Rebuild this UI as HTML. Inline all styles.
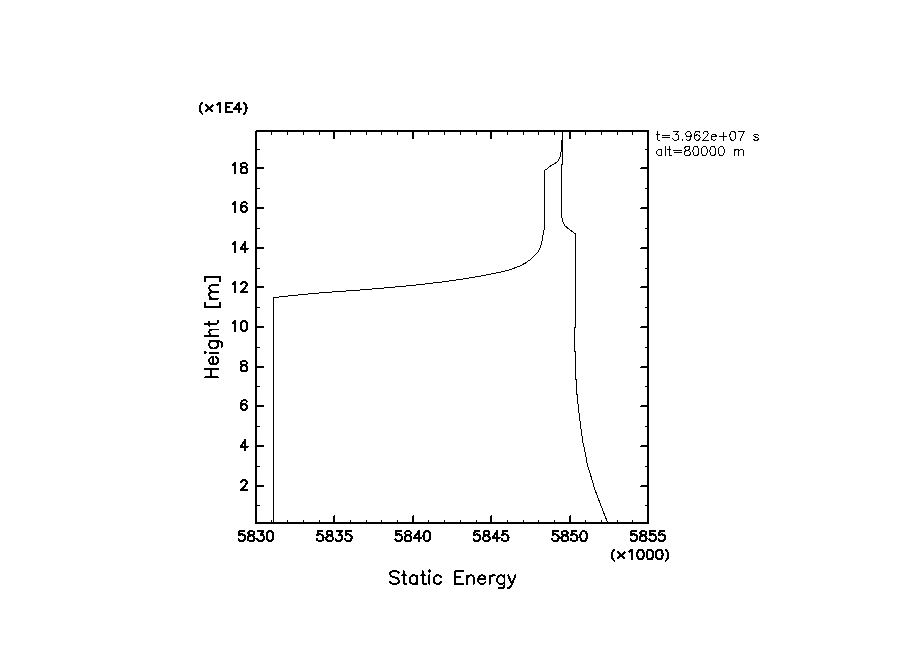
<!DOCTYPE html>
<html><head><meta charset="utf-8"><title>Static Energy vs Height</title>
<style>
html,body{margin:0;padding:0;background:#fff;}
body{width:904px;height:654px;overflow:hidden;font-family:"Liberation Sans",sans-serif;}
svg{display:block;}
.t text{fill:#000;fill-opacity:0;font-family:"Liberation Sans",sans-serif;}
</style></head><body>
<svg width="904" height="654" viewBox="0 0 904 654" shape-rendering="crispEdges">
<rect x="0" y="0" width="904" height="654" fill="#fff"/>
<g fill="#000">
<rect x="256" y="130" width="393" height="1"/>
<rect x="255" y="131" width="394" height="1"/>
<rect x="255" y="522" width="394" height="2"/>
<rect x="255" y="131" width="2" height="393"/>
<rect x="647" y="130" width="2" height="394"/>
<rect x="271" y="132" width="1" height="3"/>
<rect x="271" y="520" width="1" height="2"/>
<rect x="287" y="132" width="1" height="3"/>
<rect x="287" y="520" width="1" height="2"/>
<rect x="303" y="132" width="1" height="3"/>
<rect x="303" y="520" width="1" height="2"/>
<rect x="319" y="132" width="1" height="3"/>
<rect x="319" y="520" width="1" height="2"/>
<rect x="333" y="132" width="2" height="7"/>
<rect x="333" y="516" width="1" height="6"/>
<rect x="334" y="515" width="1" height="7"/>
<rect x="350" y="132" width="1" height="3"/>
<rect x="350" y="520" width="1" height="2"/>
<rect x="366" y="132" width="1" height="3"/>
<rect x="366" y="520" width="1" height="2"/>
<rect x="381" y="132" width="1" height="3"/>
<rect x="381" y="520" width="1" height="2"/>
<rect x="397" y="132" width="1" height="3"/>
<rect x="397" y="520" width="1" height="2"/>
<rect x="412" y="132" width="2" height="7"/>
<rect x="412" y="516" width="1" height="6"/>
<rect x="413" y="515" width="1" height="7"/>
<rect x="428" y="132" width="1" height="3"/>
<rect x="428" y="520" width="1" height="2"/>
<rect x="444" y="132" width="1" height="3"/>
<rect x="444" y="520" width="1" height="2"/>
<rect x="460" y="132" width="1" height="3"/>
<rect x="460" y="520" width="1" height="2"/>
<rect x="476" y="132" width="1" height="3"/>
<rect x="476" y="520" width="1" height="2"/>
<rect x="490" y="132" width="2" height="7"/>
<rect x="490" y="516" width="1" height="6"/>
<rect x="491" y="515" width="1" height="7"/>
<rect x="507" y="132" width="1" height="3"/>
<rect x="507" y="520" width="1" height="2"/>
<rect x="523" y="132" width="1" height="3"/>
<rect x="523" y="520" width="1" height="2"/>
<rect x="538" y="132" width="1" height="3"/>
<rect x="538" y="520" width="1" height="2"/>
<rect x="554" y="132" width="1" height="3"/>
<rect x="554" y="520" width="1" height="2"/>
<rect x="569" y="132" width="2" height="7"/>
<rect x="569" y="516" width="1" height="6"/>
<rect x="570" y="515" width="1" height="7"/>
<rect x="585" y="132" width="1" height="3"/>
<rect x="585" y="520" width="1" height="2"/>
<rect x="601" y="132" width="1" height="3"/>
<rect x="601" y="520" width="1" height="2"/>
<rect x="617" y="132" width="1" height="3"/>
<rect x="617" y="520" width="1" height="2"/>
<rect x="632" y="132" width="1" height="3"/>
<rect x="632" y="520" width="1" height="2"/>
<rect x="257" y="167" width="7" height="2"/>
<rect x="641" y="167" width="6" height="1"/>
<rect x="640" y="168" width="7" height="1"/>
<rect x="257" y="207" width="7" height="2"/>
<rect x="641" y="207" width="6" height="1"/>
<rect x="640" y="208" width="7" height="1"/>
<rect x="257" y="247" width="7" height="2"/>
<rect x="641" y="247" width="6" height="1"/>
<rect x="640" y="248" width="7" height="1"/>
<rect x="257" y="286" width="7" height="2"/>
<rect x="641" y="286" width="6" height="1"/>
<rect x="640" y="287" width="7" height="1"/>
<rect x="257" y="326" width="7" height="2"/>
<rect x="641" y="326" width="6" height="1"/>
<rect x="640" y="327" width="7" height="1"/>
<rect x="257" y="366" width="7" height="2"/>
<rect x="641" y="366" width="6" height="1"/>
<rect x="640" y="367" width="7" height="1"/>
<rect x="257" y="405" width="7" height="2"/>
<rect x="641" y="405" width="6" height="1"/>
<rect x="640" y="406" width="7" height="1"/>
<rect x="257" y="445" width="7" height="2"/>
<rect x="641" y="445" width="6" height="1"/>
<rect x="640" y="446" width="7" height="1"/>
<rect x="257" y="485" width="7" height="2"/>
<rect x="641" y="485" width="6" height="1"/>
<rect x="640" y="486" width="7" height="1"/>
<rect x="257" y="149" width="3" height="1"/>
<rect x="645" y="149" width="2" height="1"/>
<rect x="257" y="188" width="3" height="1"/>
<rect x="645" y="188" width="2" height="1"/>
<rect x="257" y="228" width="3" height="1"/>
<rect x="645" y="228" width="2" height="1"/>
<rect x="257" y="268" width="3" height="1"/>
<rect x="645" y="268" width="2" height="1"/>
<rect x="257" y="307" width="3" height="1"/>
<rect x="645" y="307" width="2" height="1"/>
<rect x="257" y="347" width="3" height="1"/>
<rect x="645" y="347" width="2" height="1"/>
<rect x="257" y="386" width="3" height="1"/>
<rect x="645" y="386" width="2" height="1"/>
<rect x="257" y="426" width="3" height="1"/>
<rect x="645" y="426" width="2" height="1"/>
<rect x="257" y="466" width="3" height="1"/>
<rect x="645" y="466" width="2" height="1"/>
<rect x="257" y="505" width="3" height="1"/>
<rect x="645" y="505" width="2" height="1"/>
</g>
<g fill="none" stroke="#000" stroke-width="1" stroke-linejoin="round" stroke-linecap="butt">
<path d="M273.5 522.0 L273.5 297.5 L276.0 297.5 L283.0 296.5 L293.0 295.5 L302.5 294.5 L313.0 293.5 L325.5 292.5 L339.5 291.5 L353.5 290.5 L366.5 289.5 L378.5 288.5 L389.5 287.5 L400.5 286.5 L411.0 285.5 L420.5 284.5 L429.0 283.5 L437.5 282.5 L446.0 281.5 L453.0 280.5 L459.5 279.5 L466.0 278.5 L472.0 277.5 L478.0 276.5 L487.4 274.8 L494.8 273.2 L502.1 271.8 L508.5 270.2 L514.0 268.2 L519.5 266.1 L525.0 263.3 L529.6 260.1 L534.2 256.0 L537.9 251.9 L540.2 247.7 L541.5 243.5 L542.5 238.5 L543.5 232.5 L544.5 227.5 L544.5 170.5 L547.0 169.0 L550.5 166.0 L555.0 163.5 L558.5 160.5 L560.0 157.0 L560.7 153.5 L561.5 150.0 L561.5 141.0 L562.5 139.0 L562.5 131.0"/>
<path d="M562.5 131.0 L562.5 164.0 L561.5 165.0 L561.5 216.0 L562.5 220.0 L563.6 223.5 L565.0 225.8 L567.2 227.7 L571.4 230.9 L575.5 234.0 L575.5 327.0 L574.5 328.0 L574.5 351.0 L575.5 352.0 L575.5 379.0 L576.5 380.0 L576.5 394.0 L577.5 395.0 L577.5 400.0 L578.6 409.5 L580.5 424.8 L582.5 440.1 L585.3 453.5 L587.6 465.9 L591.0 476.4 L594.3 487.8 L599.6 502.1 L604.4 514.6 L607.5 522.0"/>
</g>
<g fill="none" stroke="#000" stroke-width="2.05" stroke-linejoin="round" stroke-linecap="round">
<path d="M244.15 531.13 L239.45 531.13 L238.98 535.36 L239.45 534.89 L240.86 534.42 L242.27 534.42 L243.68 534.89 L244.62 535.83 L245.09 537.24 L245.09 538.18 L244.62 539.59 L243.68 540.53 L242.27 541.00 L240.86 541.00 L239.45 540.53 L238.98 540.06 L238.51 539.12 M250.26 531.13 L248.85 531.60 L248.38 532.54 L248.38 533.48 L248.85 534.42 L249.79 534.89 L251.67 535.36 L253.08 535.83 L254.02 536.77 L254.49 537.71 L254.49 539.12 L254.02 540.06 L253.55 540.53 L252.14 541.00 L250.26 541.00 L248.85 540.53 L248.38 540.06 L247.91 539.12 L247.91 537.71 L248.38 536.77 L249.32 535.83 L250.73 535.36 L252.61 534.89 L253.55 534.42 L254.02 533.48 L254.02 532.54 L253.55 531.60 L252.14 531.13 L250.26 531.13 M258.25 531.13 L263.42 531.13 L260.60 534.89 L262.01 534.89 L262.95 535.36 L263.42 535.83 L263.89 537.24 L263.89 538.18 L263.42 539.59 L262.48 540.53 L261.07 541.00 L259.66 541.00 L258.25 540.53 L257.78 540.06 L257.31 539.12 M269.53 531.13 L268.12 531.60 L267.18 533.01 L266.71 535.36 L266.71 536.77 L267.18 539.12 L268.12 540.53 L269.53 541.00 L270.47 541.00 L271.88 540.53 L272.82 539.12 L273.29 536.77 L273.29 535.36 L272.82 533.01 L271.88 531.60 L270.47 531.13 L269.53 531.13"/>
<path d="M322.55 531.13 L317.85 531.13 L317.38 535.36 L317.85 534.89 L319.26 534.42 L320.67 534.42 L322.08 534.89 L323.02 535.83 L323.49 537.24 L323.49 538.18 L323.02 539.59 L322.08 540.53 L320.67 541.00 L319.26 541.00 L317.85 540.53 L317.38 540.06 L316.91 539.12 M328.66 531.13 L327.25 531.60 L326.78 532.54 L326.78 533.48 L327.25 534.42 L328.19 534.89 L330.07 535.36 L331.48 535.83 L332.42 536.77 L332.89 537.71 L332.89 539.12 L332.42 540.06 L331.95 540.53 L330.54 541.00 L328.66 541.00 L327.25 540.53 L326.78 540.06 L326.31 539.12 L326.31 537.71 L326.78 536.77 L327.72 535.83 L329.13 535.36 L331.01 534.89 L331.95 534.42 L332.42 533.48 L332.42 532.54 L331.95 531.60 L330.54 531.13 L328.66 531.13 M336.65 531.13 L341.82 531.13 L339.00 534.89 L340.41 534.89 L341.35 535.36 L341.82 535.83 L342.29 537.24 L342.29 538.18 L341.82 539.59 L340.88 540.53 L339.47 541.00 L338.06 541.00 L336.65 540.53 L336.18 540.06 L335.71 539.12 M350.75 531.13 L346.05 531.13 L345.58 535.36 L346.05 534.89 L347.46 534.42 L348.87 534.42 L350.28 534.89 L351.22 535.83 L351.69 537.24 L351.69 538.18 L351.22 539.59 L350.28 540.53 L348.87 541.00 L347.46 541.00 L346.05 540.53 L345.58 540.06 L345.11 539.12"/>
<path d="M400.95 531.13 L396.25 531.13 L395.78 535.36 L396.25 534.89 L397.66 534.42 L399.07 534.42 L400.48 534.89 L401.42 535.83 L401.89 537.24 L401.89 538.18 L401.42 539.59 L400.48 540.53 L399.07 541.00 L397.66 541.00 L396.25 540.53 L395.78 540.06 L395.31 539.12 M407.06 531.13 L405.65 531.60 L405.18 532.54 L405.18 533.48 L405.65 534.42 L406.59 534.89 L408.47 535.36 L409.88 535.83 L410.82 536.77 L411.29 537.71 L411.29 539.12 L410.82 540.06 L410.35 540.53 L408.94 541.00 L407.06 541.00 L405.65 540.53 L405.18 540.06 L404.71 539.12 L404.71 537.71 L405.18 536.77 L406.12 535.83 L407.53 535.36 L409.41 534.89 L410.35 534.42 L410.82 533.48 L410.82 532.54 L410.35 531.60 L408.94 531.13 L407.06 531.13 M418.81 531.13 L414.11 537.71 L421.16 537.71 M418.81 531.13 L418.81 541.00 M426.33 531.13 L424.92 531.60 L423.98 533.01 L423.51 535.36 L423.51 536.77 L423.98 539.12 L424.92 540.53 L426.33 541.00 L427.27 541.00 L428.68 540.53 L429.62 539.12 L430.09 536.77 L430.09 535.36 L429.62 533.01 L428.68 531.60 L427.27 531.13 L426.33 531.13"/>
<path d="M479.35 531.13 L474.65 531.13 L474.18 535.36 L474.65 534.89 L476.06 534.42 L477.47 534.42 L478.88 534.89 L479.82 535.83 L480.29 537.24 L480.29 538.18 L479.82 539.59 L478.88 540.53 L477.47 541.00 L476.06 541.00 L474.65 540.53 L474.18 540.06 L473.71 539.12 M485.46 531.13 L484.05 531.60 L483.58 532.54 L483.58 533.48 L484.05 534.42 L484.99 534.89 L486.87 535.36 L488.28 535.83 L489.22 536.77 L489.69 537.71 L489.69 539.12 L489.22 540.06 L488.75 540.53 L487.34 541.00 L485.46 541.00 L484.05 540.53 L483.58 540.06 L483.11 539.12 L483.11 537.71 L483.58 536.77 L484.52 535.83 L485.93 535.36 L487.81 534.89 L488.75 534.42 L489.22 533.48 L489.22 532.54 L488.75 531.60 L487.34 531.13 L485.46 531.13 M497.21 531.13 L492.51 537.71 L499.56 537.71 M497.21 531.13 L497.21 541.00 M507.55 531.13 L502.85 531.13 L502.38 535.36 L502.85 534.89 L504.26 534.42 L505.67 534.42 L507.08 534.89 L508.02 535.83 L508.49 537.24 L508.49 538.18 L508.02 539.59 L507.08 540.53 L505.67 541.00 L504.26 541.00 L502.85 540.53 L502.38 540.06 L501.91 539.12"/>
<path d="M557.75 531.13 L553.05 531.13 L552.58 535.36 L553.05 534.89 L554.46 534.42 L555.87 534.42 L557.28 534.89 L558.22 535.83 L558.69 537.24 L558.69 538.18 L558.22 539.59 L557.28 540.53 L555.87 541.00 L554.46 541.00 L553.05 540.53 L552.58 540.06 L552.11 539.12 M563.86 531.13 L562.45 531.60 L561.98 532.54 L561.98 533.48 L562.45 534.42 L563.39 534.89 L565.27 535.36 L566.68 535.83 L567.62 536.77 L568.09 537.71 L568.09 539.12 L567.62 540.06 L567.15 540.53 L565.74 541.00 L563.86 541.00 L562.45 540.53 L561.98 540.06 L561.51 539.12 L561.51 537.71 L561.98 536.77 L562.92 535.83 L564.33 535.36 L566.21 534.89 L567.15 534.42 L567.62 533.48 L567.62 532.54 L567.15 531.60 L565.74 531.13 L563.86 531.13 M576.55 531.13 L571.85 531.13 L571.38 535.36 L571.85 534.89 L573.26 534.42 L574.67 534.42 L576.08 534.89 L577.02 535.83 L577.49 537.24 L577.49 538.18 L577.02 539.59 L576.08 540.53 L574.67 541.00 L573.26 541.00 L571.85 540.53 L571.38 540.06 L570.91 539.12 M583.13 531.13 L581.72 531.60 L580.78 533.01 L580.31 535.36 L580.31 536.77 L580.78 539.12 L581.72 540.53 L583.13 541.00 L584.07 541.00 L585.48 540.53 L586.42 539.12 L586.89 536.77 L586.89 535.36 L586.42 533.01 L585.48 531.60 L584.07 531.13 L583.13 531.13"/>
<path d="M636.15 531.13 L631.45 531.13 L630.98 535.36 L631.45 534.89 L632.86 534.42 L634.27 534.42 L635.68 534.89 L636.62 535.83 L637.09 537.24 L637.09 538.18 L636.62 539.59 L635.68 540.53 L634.27 541.00 L632.86 541.00 L631.45 540.53 L630.98 540.06 L630.51 539.12 M642.26 531.13 L640.85 531.60 L640.38 532.54 L640.38 533.48 L640.85 534.42 L641.79 534.89 L643.67 535.36 L645.08 535.83 L646.02 536.77 L646.49 537.71 L646.49 539.12 L646.02 540.06 L645.55 540.53 L644.14 541.00 L642.26 541.00 L640.85 540.53 L640.38 540.06 L639.91 539.12 L639.91 537.71 L640.38 536.77 L641.32 535.83 L642.73 535.36 L644.61 534.89 L645.55 534.42 L646.02 533.48 L646.02 532.54 L645.55 531.60 L644.14 531.13 L642.26 531.13 M654.95 531.13 L650.25 531.13 L649.78 535.36 L650.25 534.89 L651.66 534.42 L653.07 534.42 L654.48 534.89 L655.42 535.83 L655.89 537.24 L655.89 538.18 L655.42 539.59 L654.48 540.53 L653.07 541.00 L651.66 541.00 L650.25 540.53 L649.78 540.06 L649.31 539.12 M664.35 531.13 L659.65 531.13 L659.18 535.36 L659.65 534.89 L661.06 534.42 L662.47 534.42 L663.88 534.89 L664.82 535.83 L665.29 537.24 L665.29 538.18 L664.82 539.59 L663.88 540.53 L662.47 541.00 L661.06 541.00 L659.65 540.53 L659.18 540.06 L658.71 539.12"/>
<path d="M241.08 482.48 L241.08 482.01 L241.55 481.07 L242.02 480.60 L242.96 480.13 L244.84 480.13 L245.78 480.60 L246.25 481.07 L246.72 482.01 L246.72 482.95 L246.25 483.89 L245.31 485.30 L240.61 490.00 L247.19 490.00"/>
<path d="M245.31 440.13 L240.61 446.71 L247.66 446.71 M245.31 440.13 L245.31 450.00"/>
<path d="M246.72 401.54 L246.25 400.60 L244.84 400.13 L243.90 400.13 L242.49 400.60 L241.55 402.01 L241.08 404.36 L241.08 406.71 L241.55 408.59 L242.49 409.53 L243.90 410.00 L244.37 410.00 L245.78 409.53 L246.72 408.59 L247.19 407.18 L247.19 406.71 L246.72 405.30 L245.78 404.36 L244.37 403.89 L243.90 403.89 L242.49 404.36 L241.55 405.30 L241.08 406.71"/>
<path d="M242.96 361.13 L241.55 361.60 L241.08 362.54 L241.08 363.48 L241.55 364.42 L242.49 364.89 L244.37 365.36 L245.78 365.83 L246.72 366.77 L247.19 367.71 L247.19 369.12 L246.72 370.06 L246.25 370.53 L244.84 371.00 L242.96 371.00 L241.55 370.53 L241.08 370.06 L240.61 369.12 L240.61 367.71 L241.08 366.77 L242.02 365.83 L243.43 365.36 L245.31 364.89 L246.25 364.42 L246.72 363.48 L246.72 362.54 L246.25 361.60 L244.84 361.13 L242.96 361.13"/>
<path d="M232.62 323.01 L233.56 322.54 L234.97 321.13 L234.97 331.00 M243.43 321.13 L242.02 321.60 L241.08 323.01 L240.61 325.36 L240.61 326.77 L241.08 329.12 L242.02 330.53 L243.43 331.00 L244.37 331.00 L245.78 330.53 L246.72 329.12 L247.19 326.77 L247.19 325.36 L246.72 323.01 L245.78 321.60 L244.37 321.13 L243.43 321.13"/>
<path d="M232.62 284.01 L233.56 283.54 L234.97 282.13 L234.97 292.00 M241.08 284.48 L241.08 284.01 L241.55 283.07 L242.02 282.60 L242.96 282.13 L244.84 282.13 L245.78 282.60 L246.25 283.07 L246.72 284.01 L246.72 284.95 L246.25 285.89 L245.31 287.30 L240.61 292.00 L247.19 292.00"/>
<path d="M232.62 244.01 L233.56 243.54 L234.97 242.13 L234.97 252.00 M245.31 242.13 L240.61 248.71 L247.66 248.71 M245.31 242.13 L245.31 252.00"/>
<path d="M232.62 204.01 L233.56 203.54 L234.97 202.13 L234.97 212.00 M246.72 203.54 L246.25 202.60 L244.84 202.13 L243.90 202.13 L242.49 202.60 L241.55 204.01 L241.08 206.36 L241.08 208.71 L241.55 210.59 L242.49 211.53 L243.90 212.00 L244.37 212.00 L245.78 211.53 L246.72 210.59 L247.19 209.18 L247.19 208.71 L246.72 207.30 L245.78 206.36 L244.37 205.89 L243.90 205.89 L242.49 206.36 L241.55 207.30 L241.08 208.71"/>
<path d="M232.62 165.01 L233.56 164.54 L234.97 163.13 L234.97 173.00 M242.96 163.13 L241.55 163.60 L241.08 164.54 L241.08 165.48 L241.55 166.42 L242.49 166.89 L244.37 167.36 L245.78 167.83 L246.72 168.77 L247.19 169.71 L247.19 171.12 L246.72 172.06 L246.25 172.53 L244.84 173.00 L242.96 173.00 L241.55 172.53 L241.08 172.06 L240.61 171.12 L240.61 169.71 L241.08 168.77 L242.02 167.83 L243.43 167.36 L245.31 166.89 L246.25 166.42 L246.72 165.48 L246.72 164.54 L246.25 163.60 L244.84 163.13 L242.96 163.13"/>
<path d="M202.20 102.85 L201.50 103.52 L200.79 104.54 L200.09 105.89 L199.73 107.58 L199.73 108.92 L200.09 110.61 L200.79 111.96 L201.50 112.97 L202.20 113.65 M205.96 105.33 L212.54 111.17 M212.54 105.33 L205.96 111.17 M217.24 104.65 L218.18 104.20 L219.59 102.85 L219.59 112.30 M225.70 102.85 L225.70 112.30 M225.70 102.85 L231.81 102.85 M225.70 107.35 L229.46 107.35 M225.70 112.30 L231.81 112.30 M238.86 102.85 L234.16 109.15 L241.21 109.15 M238.86 102.85 L238.86 112.30 M244.03 102.85 L244.74 103.52 L245.44 104.54 L246.14 105.89 L246.50 107.58 L246.50 108.92 L246.14 110.61 L245.44 111.96 L244.74 112.97 L244.03 113.65"/>
<path d="M614.20 549.85 L613.50 550.52 L612.79 551.54 L612.09 552.89 L611.73 554.57 L611.73 555.92 L612.09 557.61 L612.79 558.96 L613.50 559.97 L614.20 560.65 M617.96 552.32 L624.54 558.17 M624.54 552.32 L617.96 558.17 M629.24 551.65 L630.18 551.20 L631.59 549.85 L631.59 559.30 M640.05 549.85 L638.64 550.30 L637.70 551.65 L637.23 553.90 L637.23 555.25 L637.70 557.50 L638.64 558.85 L640.05 559.30 L640.99 559.30 L642.40 558.85 L643.34 557.50 L643.81 555.25 L643.81 553.90 L643.34 551.65 L642.40 550.30 L640.99 549.85 L640.05 549.85 M649.45 549.85 L648.04 550.30 L647.10 551.65 L646.63 553.90 L646.63 555.25 L647.10 557.50 L648.04 558.85 L649.45 559.30 L650.39 559.30 L651.80 558.85 L652.74 557.50 L653.21 555.25 L653.21 553.90 L652.74 551.65 L651.80 550.30 L650.39 549.85 L649.45 549.85 M658.85 549.85 L657.44 550.30 L656.50 551.65 L656.03 553.90 L656.03 555.25 L656.50 557.50 L657.44 558.85 L658.85 559.30 L659.79 559.30 L661.20 558.85 L662.14 557.50 L662.61 555.25 L662.61 553.90 L662.14 551.65 L661.20 550.30 L659.79 549.85 L658.85 549.85 M665.90 549.85 L666.61 550.52 L667.31 551.54 L668.01 552.89 L668.37 554.57 L668.37 555.92 L668.01 557.61 L667.31 558.96 L666.61 559.97 L665.90 560.65"/>
</g>
<g fill="none" stroke="#000" stroke-width="1.9" stroke-linejoin="round" stroke-linecap="round">
<path d="M398.69 572.93 L397.46 571.70 L395.61 571.09 L393.15 571.09 L391.31 571.70 L390.08 572.93 L390.08 574.16 L390.69 575.39 L391.31 576.00 L392.54 576.62 L396.23 577.85 L397.46 578.47 L398.07 579.08 L398.69 580.31 L398.69 582.15 L397.46 583.38 L395.61 584.00 L393.15 584.00 L391.31 583.38 L390.08 582.15 M403.61 571.09 L403.61 581.54 L404.22 583.38 L405.45 584.00 L406.68 584.00 M401.76 575.39 L406.07 575.39 M417.14 575.39 L417.14 584.00 M417.14 577.24 L415.91 576.00 L414.68 575.39 L412.83 575.39 L411.60 576.00 L410.37 577.24 L409.76 579.08 L409.76 580.31 L410.37 582.15 L411.60 583.38 L412.83 584.00 L414.68 584.00 L415.91 583.38 L417.14 582.15 M422.67 571.09 L422.67 581.54 L423.29 583.38 L424.52 584.00 L425.75 584.00 M420.83 575.39 L425.13 575.39 M428.82 571.09 L429.44 571.70 L430.05 571.09 L429.44 570.47 L428.82 571.09 M429.44 575.39 L429.44 584.00 M441.12 577.24 L439.89 576.00 L438.66 575.39 L436.82 575.39 L435.59 576.00 L434.36 577.24 L433.74 579.08 L433.74 580.31 L434.36 582.15 L435.59 583.38 L436.82 584.00 L438.66 584.00 L439.89 583.38 L441.12 582.15 M455.27 571.09 L455.27 584.00 M455.27 571.09 L463.26 571.09 M455.27 577.24 L460.19 577.24 M455.27 584.00 L463.26 584.00 M466.95 575.39 L466.95 584.00 M466.95 577.85 L468.80 576.00 L470.03 575.39 L471.87 575.39 L473.10 576.00 L473.72 577.85 L473.72 584.00 M478.02 579.08 L485.40 579.08 L485.40 577.85 L484.79 576.62 L484.17 576.00 L482.94 575.39 L481.10 575.39 L479.87 576.00 L478.64 577.24 L478.02 579.08 L478.02 580.31 L478.64 582.15 L479.87 583.38 L481.10 584.00 L482.94 584.00 L484.17 583.38 L485.40 582.15 M489.71 575.39 L489.71 584.00 M489.71 579.08 L490.32 577.24 L491.55 576.00 L492.78 575.39 L494.63 575.39 M504.47 575.39 L504.47 585.23 L503.85 587.08 L503.24 587.69 L502.01 588.30 L500.16 588.30 L498.93 587.69 M504.47 577.24 L503.24 576.00 L502.01 575.39 L500.16 575.39 L498.93 576.00 L497.70 577.24 L497.09 579.08 L497.09 580.31 L497.70 582.15 L498.93 583.38 L500.16 584.00 L502.01 584.00 L503.24 583.38 L504.47 582.15 M508.16 575.39 L511.85 584.00 M515.54 575.39 L511.85 584.00 L510.62 586.46 L509.39 587.69 L508.16 588.30 L507.54 588.30"/>
<path d="M205.09 377.43 L218.00 377.43 M205.09 368.82 L218.00 368.82 M211.24 377.43 L211.24 368.82 M213.08 364.51 L213.08 357.13 L211.85 357.13 L210.62 357.75 L210.00 358.37 L209.39 359.59 L209.39 361.44 L210.00 362.67 L211.24 363.90 L213.08 364.51 L214.31 364.51 L216.16 363.90 L217.38 362.67 L218.00 361.44 L218.00 359.59 L217.38 358.37 L216.16 357.13 M205.09 353.44 L205.70 352.83 L205.09 352.21 L204.47 352.83 L205.09 353.44 M209.39 352.83 L218.00 352.83 M209.39 341.14 L219.23 341.14 L221.07 341.76 L221.69 342.38 L222.31 343.61 L222.31 345.45 L221.69 346.68 M211.24 341.14 L210.00 342.38 L209.39 343.61 L209.39 345.45 L210.00 346.68 L211.24 347.91 L213.08 348.52 L214.31 348.52 L216.16 347.91 L217.38 346.68 L218.00 345.45 L218.00 343.61 L217.38 342.38 L216.16 341.14 M205.09 336.22 L218.00 336.22 M211.85 336.22 L210.00 334.38 L209.39 333.15 L209.39 331.31 L210.00 330.07 L211.85 329.46 L218.00 329.46 M205.09 323.93 L215.54 323.93 L217.38 323.31 L218.00 322.08 L218.00 320.85 M209.39 325.77 L209.39 321.46 M205.09 306.86 L219.84 306.86 M205.09 306.86 L205.09 302.77 M219.84 306.86 L219.84 302.77 M209.39 298.71 L218.00 298.71 M211.85 298.71 L210.00 296.87 L209.39 295.63 L209.39 293.79 L210.00 292.56 L211.85 291.94 L218.00 291.94 M211.85 291.94 L210.00 290.10 L209.39 288.87 L209.39 287.02 L210.00 285.79 L211.85 285.18 L218.00 285.18 M205.09 277.03 L219.84 277.03 M205.09 281.12 L205.09 277.03 M219.84 281.12 L219.84 277.03"/>
</g>
<g fill="none" stroke="#000" stroke-width="1" stroke-linejoin="round" stroke-linecap="round">
<path d="M657.62 131.38 L657.62 138.60 L658.05 139.88 L658.90 140.30 L659.75 140.30 M656.35 134.35 L659.33 134.35 M662.30 135.20 L669.95 135.20 M662.30 137.75 L669.95 137.75 M673.77 131.38 L678.45 131.38 L675.90 134.78 L677.17 134.78 L678.02 135.20 L678.45 135.62 L678.88 136.90 L678.88 137.75 L678.45 139.03 L677.60 139.88 L676.33 140.30 L675.05 140.30 L673.77 139.88 L673.35 139.45 L672.92 138.60 M682.27 139.45 L681.85 139.88 L682.27 140.30 L682.70 139.88 L682.27 139.45 M691.20 134.35 L690.77 135.62 L689.92 136.48 L688.65 136.90 L688.23 136.90 L686.95 136.48 L686.10 135.62 L685.67 134.35 L685.67 133.93 L686.10 132.65 L686.95 131.80 L688.23 131.38 L688.65 131.38 L689.92 131.80 L690.77 132.65 L691.20 134.35 L691.20 136.48 L690.77 138.60 L689.92 139.88 L688.65 140.30 L687.80 140.30 L686.52 139.88 L686.10 139.03 M699.70 132.65 L699.27 131.80 L698.00 131.38 L697.15 131.38 L695.88 131.80 L695.02 133.08 L694.60 135.20 L694.60 137.33 L695.02 139.03 L695.88 139.88 L697.15 140.30 L697.58 140.30 L698.85 139.88 L699.70 139.03 L700.12 137.75 L700.12 137.33 L699.70 136.05 L698.85 135.20 L697.58 134.78 L697.15 134.78 L695.88 135.20 L695.02 136.05 L694.60 137.33 M703.10 133.50 L703.10 133.08 L703.52 132.23 L703.95 131.80 L704.80 131.38 L706.50 131.38 L707.35 131.80 L707.77 132.23 L708.20 133.08 L708.20 133.93 L707.77 134.78 L706.92 136.05 L702.67 140.30 L708.62 140.30 M711.17 136.90 L716.27 136.90 L716.27 136.05 L715.85 135.20 L715.42 134.78 L714.58 134.35 L713.30 134.35 L712.45 134.78 L711.60 135.62 L711.17 136.90 L711.17 137.75 L711.60 139.03 L712.45 139.88 L713.30 140.30 L714.58 140.30 L715.42 139.88 L716.27 139.03 M723.08 132.65 L723.08 140.30 M719.25 136.48 L726.90 136.48 M732.42 131.38 L731.15 131.80 L730.30 133.08 L729.88 135.20 L729.88 136.48 L730.30 138.60 L731.15 139.88 L732.42 140.30 L733.27 140.30 L734.55 139.88 L735.40 138.60 L735.83 136.48 L735.83 135.20 L735.40 133.08 L734.55 131.80 L733.27 131.38 L732.42 131.38 M744.33 131.38 L740.08 140.30 M738.38 131.38 L744.33 131.38 M758.35 135.62 L757.92 134.78 L756.65 134.35 L755.38 134.35 L754.10 134.78 L753.67 135.62 L754.10 136.48 L754.95 136.90 L757.08 137.33 L757.92 137.75 L758.35 138.60 L758.35 139.03 L757.92 139.88 L756.65 140.30 L755.38 140.30 L754.10 139.88 L753.67 139.03"/>
<path d="M661.88 149.55 L661.88 155.50 M661.88 150.82 L661.02 149.97 L660.17 149.55 L658.90 149.55 L658.05 149.97 L657.20 150.82 L656.77 152.10 L656.77 152.95 L657.20 154.22 L658.05 155.07 L658.90 155.50 L660.17 155.50 L661.02 155.07 L661.88 154.22 M665.27 146.57 L665.27 155.50 M669.10 146.57 L669.10 153.80 L669.52 155.07 L670.38 155.50 L671.23 155.50 M667.83 149.55 L670.80 149.55 M673.77 150.40 L681.42 150.40 M673.77 152.95 L681.42 152.95 M686.52 146.57 L685.25 147.00 L684.83 147.85 L684.83 148.70 L685.25 149.55 L686.10 149.97 L687.80 150.40 L689.08 150.82 L689.92 151.68 L690.35 152.53 L690.35 153.80 L689.92 154.65 L689.50 155.07 L688.23 155.50 L686.52 155.50 L685.25 155.07 L684.83 154.65 L684.40 153.80 L684.40 152.53 L684.83 151.68 L685.67 150.82 L686.95 150.40 L688.65 149.97 L689.50 149.55 L689.92 148.70 L689.92 147.85 L689.50 147.00 L688.23 146.57 L686.52 146.57 M695.45 146.57 L694.17 147.00 L693.33 148.28 L692.90 150.40 L692.90 151.68 L693.33 153.80 L694.17 155.07 L695.45 155.50 L696.30 155.50 L697.58 155.07 L698.42 153.80 L698.85 151.68 L698.85 150.40 L698.42 148.28 L697.58 147.00 L696.30 146.57 L695.45 146.57 M703.95 146.57 L702.67 147.00 L701.83 148.28 L701.40 150.40 L701.40 151.68 L701.83 153.80 L702.67 155.07 L703.95 155.50 L704.80 155.50 L706.08 155.07 L706.92 153.80 L707.35 151.68 L707.35 150.40 L706.92 148.28 L706.08 147.00 L704.80 146.57 L703.95 146.57 M712.45 146.57 L711.17 147.00 L710.33 148.28 L709.90 150.40 L709.90 151.68 L710.33 153.80 L711.17 155.07 L712.45 155.50 L713.30 155.50 L714.58 155.07 L715.42 153.80 L715.85 151.68 L715.85 150.40 L715.42 148.28 L714.58 147.00 L713.30 146.57 L712.45 146.57 M720.95 146.57 L719.67 147.00 L718.83 148.28 L718.40 150.40 L718.40 151.68 L718.83 153.80 L719.67 155.07 L720.95 155.50 L721.80 155.50 L723.08 155.07 L723.92 153.80 L724.35 151.68 L724.35 150.40 L723.92 148.28 L723.08 147.00 L721.80 146.57 L720.95 146.57 M734.12 149.55 L734.12 155.50 M734.12 151.25 L735.40 149.97 L736.25 149.55 L737.52 149.55 L738.38 149.97 L738.80 151.25 L738.80 155.50 M738.80 151.25 L740.08 149.97 L740.92 149.55 L742.20 149.55 L743.05 149.97 L743.48 151.25 L743.48 155.50"/>
</g>
<g class="t">
<text x="256" y="541" font-size="13" text-anchor="middle">5830</text>
<text x="334.4" y="541" font-size="13" text-anchor="middle">5835</text>
<text x="412.8" y="541" font-size="13" text-anchor="middle">5840</text>
<text x="491.2" y="541" font-size="13" text-anchor="middle">5845</text>
<text x="569.6" y="541" font-size="13" text-anchor="middle">5850</text>
<text x="648" y="541" font-size="13" text-anchor="middle">5855</text>
<text x="249" y="490" font-size="13" text-anchor="end">2</text>
<text x="249" y="450" font-size="13" text-anchor="end">4</text>
<text x="249" y="410" font-size="13" text-anchor="end">6</text>
<text x="249" y="371" font-size="13" text-anchor="end">8</text>
<text x="249" y="331" font-size="13" text-anchor="end">10</text>
<text x="249" y="292" font-size="13" text-anchor="end">12</text>
<text x="249" y="252" font-size="13" text-anchor="end">14</text>
<text x="249" y="212" font-size="13" text-anchor="end">16</text>
<text x="249" y="173" font-size="13" text-anchor="end">18</text>
<text x="198" y="112" font-size="13" text-anchor="start">(×1E4)</text>
<text x="610" y="559" font-size="13" text-anchor="start">(×1000)</text>
<text x="452.5" y="584.5" font-size="17" text-anchor="middle">Static Energy</text>
<text x="218" y="327" font-size="17" text-anchor="middle" transform="rotate(-90 218 327)">Height [m]</text>
<text x="655.5" y="140.3" font-size="12" text-anchor="start">t=3.962e+07 s</text>
<text x="655.5" y="155.5" font-size="12" text-anchor="start">alt=80000 m</text>
</g>
</svg>
</body></html>
